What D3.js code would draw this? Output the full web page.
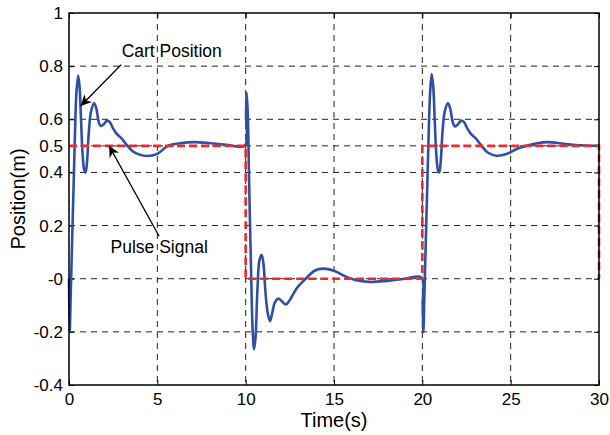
<!DOCTYPE html>
<html>
<head>
<meta charset="utf-8">
<script src="https://cdn.jsdelivr.net/npm/d3@7.9.0/dist/d3.min.js"></script>
<style>
  body { margin: 0; background: #fff; }
  svg { font-family: "Liberation Sans", Arial, sans-serif; }
</style>
</head>
<body>
<svg id="chart" width="610" height="435"></svg>
<script>
// cart position (time in s, position in m)
const cartTime = [0, 0.04, 0.10, 0.18, 0.26, 0.34, 0.42, 0.52, 0.60, 0.68, 0.76, 0.86, 0.94, 1.02, 1.12, 1.25, 1.42, 1.55, 1.68, 1.80, 1.95, 2.15, 2.30, 2.50, 2.70, 2.95, 3.25, 3.6, 4.0, 4.4, 5.0, 5.6, 6.3, 7.1, 8.0, 9.0, 9.95,
  10.02, 10.06, 10.12, 10.2, 10.3, 10.4, 10.48, 10.56, 10.66, 10.78, 10.9, 11.0, 11.12, 11.25, 11.38, 11.5, 11.65, 11.85, 12.05, 12.28, 12.5, 12.9, 13.4, 13.9, 14.4, 15.0, 15.6, 16.2, 17.0, 18.0, 19.0, 19.95,
  20.02, 20.06, 20.12, 20.2, 20.28, 20.36, 20.44, 20.53, 20.62, 20.70, 20.78, 20.88, 20.96, 21.04, 21.14, 21.27, 21.45, 21.58, 21.72, 21.85, 22.0, 22.2, 22.35, 22.55, 22.75, 23.0, 23.35, 23.7, 24.2, 24.8, 25.4, 25.9, 26.5, 27.1, 28.0, 29.0, 30.0];
const cartPos = [0, -0.2, -0.05, 0.15, 0.35, 0.55, 0.70, 0.765, 0.72, 0.60, 0.48, 0.41, 0.40, 0.44, 0.55, 0.63, 0.66, 0.64, 0.59, 0.575, 0.58, 0.595, 0.59, 0.565, 0.545, 0.53, 0.505, 0.48, 0.467, 0.462, 0.47, 0.50, 0.51, 0.514, 0.51, 0.503, 0.5,
  0.62, 0.70, 0.62, 0.35, 0.05, -0.2, -0.265, -0.22, -0.05, 0.07, 0.09, 0.06, -0.05, -0.13, -0.16, -0.13, -0.09, -0.075, -0.085, -0.097, -0.08, -0.035, 0.0, 0.03, 0.038, 0.03, 0.01, -0.005, -0.012, -0.008, 0.0, 0.005,
  -0.1, -0.2, -0.05, 0.15, 0.35, 0.55, 0.70, 0.77, 0.72, 0.60, 0.48, 0.41, 0.40, 0.44, 0.55, 0.63, 0.66, 0.64, 0.59, 0.573, 0.58, 0.595, 0.59, 0.565, 0.545, 0.53, 0.5, 0.475, 0.463, 0.47, 0.49, 0.5, 0.51, 0.514, 0.508, 0.502, 0.5];

// pulse reference signal
const pulseTime = [0, 10, 10, 20, 20, 30, 30];
const pulseValue = [0.5, 0.5, 0, 0, 0.5, 0.5, 0];

const xTicks = [0, 5, 10, 15, 20, 25, 30];
const yTicks = [-0.4, -0.2, 0, 0.2, 0.4, 0.5, 0.6, 0.8, 1];
const yTickLabels = ["-0.4", "-0.2", "-0", "0.2", "0.4", "0.5", "0.6", "0.8", "1"];

const svg = d3.select('#chart');
const plotL = 69, plotR = 599, plotT = 13, plotB = 385;
const fontFam = '"Liberation Sans", Arial, sans-serif';

const x = d3.scaleLinear().domain([0, 30]).range([plotL, plotR]);
const y = d3.scaleLinear().domain([-0.4, 1]).range([plotB, plotT]);

/* grid */
const grid = svg.append('g')
  .attr('stroke', '#222')
  .attr('stroke-width', 1)
  .attr('stroke-dasharray', '6,5');
xTicks.slice(1, -1).forEach(t => {
  grid.append('line')
    .attr('x1', x(t)).attr('x2', x(t))
    .attr('y1', plotT).attr('y2', plotB);
});
yTicks.slice(1, -1).forEach(t => {
  grid.append('line')
    .attr('x1', plotL).attr('x2', plotR)
    .attr('y1', y(t)).attr('y2', y(t));
});

/* axes, MATLAB style ticks inside */
const xAxis = d3.axisBottom(x).tickValues(xTicks).tickSize(-5).tickPadding(8).tickFormat(d3.format('d'));
const yAxis = d3.axisLeft(y).tickValues(yTicks).tickSize(-5).tickPadding(6)
  .tickFormat((d, i) => yTickLabels[i]);

svg.append('g').attr('transform', `translate(0,${plotB})`).call(xAxis)
  .call(g => g.select('.domain').remove())
  .selectAll('text').attr('font-size', 17).attr('fill', '#000').attr('font-family', fontFam);
svg.append('g').attr('transform', `translate(${plotL},0)`).call(yAxis)
  .call(g => g.select('.domain').remove())
  .selectAll('text').attr('font-size', 17).attr('fill', '#000').attr('font-family', fontFam);

// ticks on top and right too
svg.append('g').attr('transform', `translate(0,${plotT})`)
  .call(d3.axisTop(x).tickValues(xTicks).tickSize(-5).tickFormat(''))
  .call(g => g.select('.domain').remove());
svg.append('g').attr('transform', `translate(${plotR},0)`)
  .call(d3.axisRight(y).tickValues(yTicks).tickSize(-5).tickFormat(''))
  .call(g => g.select('.domain').remove());

/* lines */
const cartData = cartTime.map((t, i) => [t, cartPos[i]]);
const pulseData = pulseTime.map((t, i) => [t, pulseValue[i]]);

svg.append('path')
  .datum(cartData)
  .attr('fill', 'none')
  .attr('stroke', '#2f4fa6')
  .attr('stroke-width', 2.6)
  .attr('stroke-linejoin', 'round')
  .attr('d', d3.line().x(d => x(d[0])).y(d => y(d[1])).curve(d3.curveCatmullRom.alpha(0.5)));

svg.append('path')
  .datum(pulseData)
  .attr('fill', 'none')
  .attr('stroke', '#ee2a2a')
  .attr('stroke-width', 2.6)
  .attr('stroke-dasharray', '8,4')
  .attr('d', d3.line().x(d => x(d[0])).y(d => y(d[1])));

/* box */
svg.append('rect')
  .attr('x', plotL).attr('y', plotT)
  .attr('width', plotR - plotL).attr('height', plotB - plotT)
  .attr('fill', 'none').attr('stroke', '#000').attr('stroke-width', 1.5);

/* labels */
svg.append('text')
  .attr('x', (plotL + plotR) / 2).attr('y', 427)
  .attr('text-anchor', 'middle').attr('font-size', 20)
  .text('Time(s)');
svg.append('text')
  .attr('transform', `translate(25,${(plotT + plotB) / 2}) rotate(-90)`)
  .attr('text-anchor', 'middle').attr('font-size', 20)
  .text('Position(m)');

/* annotations */
svg.append('defs').append('marker')
  .attr('id', 'head')
  .attr('viewBox', '0 0 10 10')
  .attr('refX', 10).attr('refY', 5)
  .attr('markerWidth', 11).attr('markerHeight', 11)
  .attr('markerUnits', 'userSpaceOnUse')
  .attr('orient', 'auto')
  .append('path').attr('d', 'M0,0 L10,5 L0,10 L3,5 Z').attr('fill', '#000');

svg.append('text')
  .attr('x', x(2.98)).attr('y', y(0.834))
  .attr('font-size', 17.5)
  .text('Cart Position');
svg.append('line')
  .attr('x1', x(2.95)).attr('y1', y(0.805))
  .attr('x2', x(0.66)).attr('y2', y(0.65))
  .attr('stroke', '#000').attr('stroke-width', 1.3)
  .attr('marker-end', 'url(#head)');

svg.append('text')
  .attr('x', x(2.35)).attr('y', y(0.096))
  .attr('font-size', 17.5)
  .text('Pulse Signal');
svg.append('line')
  .attr('x1', x(5.1)).attr('y1', y(0.16))
  .attr('x2', x(2.27)).attr('y2', y(0.5))
  .attr('stroke', '#000').attr('stroke-width', 1.3)
  .attr('marker-end', 'url(#head)');
</script>
</body>
</html>
